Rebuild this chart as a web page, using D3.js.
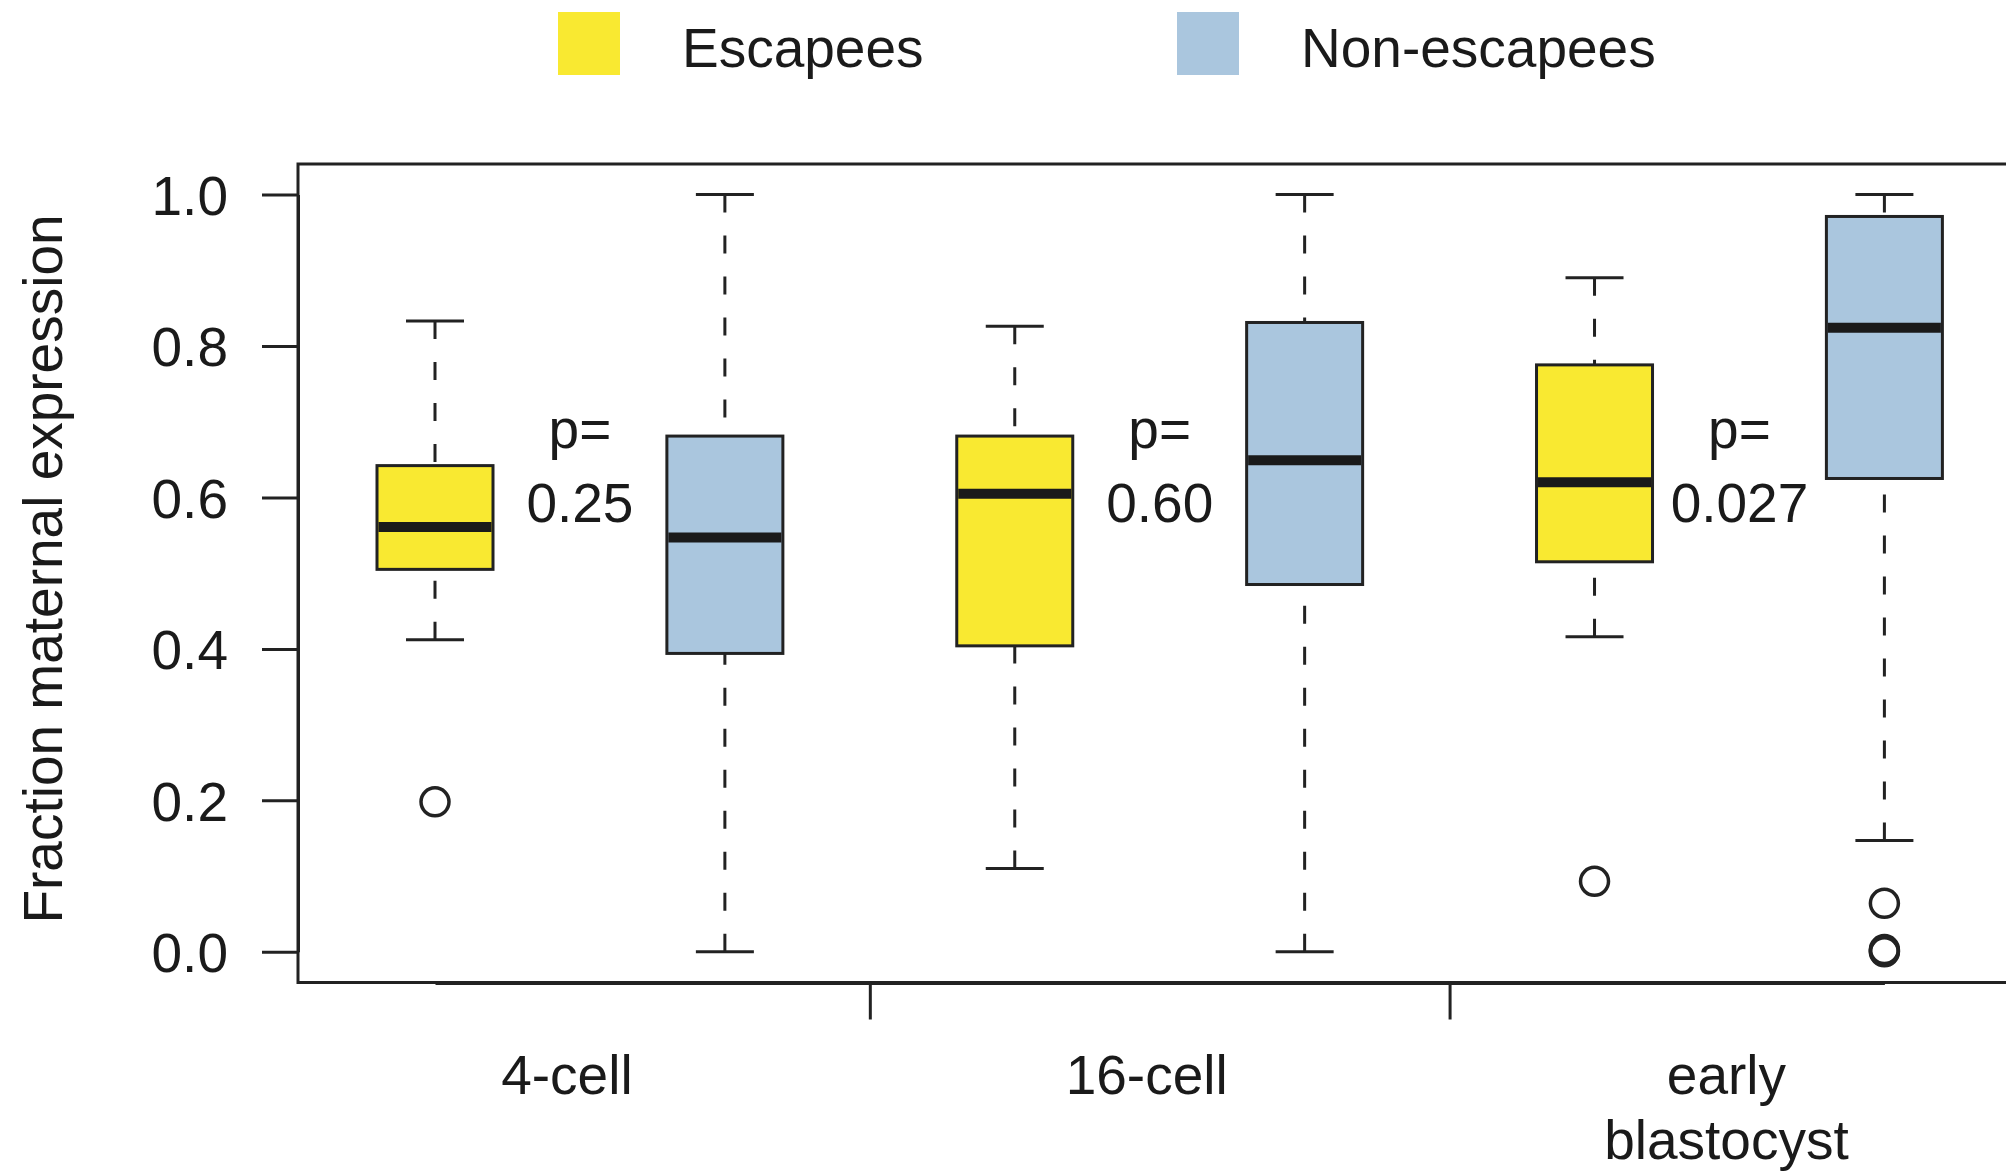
<!DOCTYPE html>
<html>
<head>
<meta charset="utf-8">
<script src="https://cdn.jsdelivr.net/npm/d3@7"></script>
<style>
  html, body { margin: 0; padding: 0; background: #ffffff; overflow: hidden; }
  text { font-family: "Liberation Sans", Arial, Helvetica, sans-serif; fill: #1a1a1a; }
</style>
</head>
<body>
<svg id="chart" width="2006" height="1176"></svg>
<script>
// Developmental stages on the x axis
const stages = [["4-cell"], ["16-cell"], ["early", "blastocyst"]];
// Gene classes drawn side by side within each stage
const groups = ["Escapees", "Non-escapees"];
const groupColors = ["#f9e931", "#aac6de"];

// Box statistics per stage: [lower whisker, Q1, median, Q3, upper whisker]
const escapeeStats = [
  [0.412, 0.505, 0.561, 0.642, 0.833],
  [0.110, 0.404, 0.605, 0.681, 0.826],
  [0.416, 0.515, 0.620, 0.775, 0.890]
];
const nonEscapeeStats = [
  [0.000, 0.394, 0.547, 0.681, 1.000],
  [0.000, 0.485, 0.649, 0.831, 1.000],
  [0.147, 0.625, 0.824, 0.971, 1.000]
];
const escapeeOutliers = [[0.198], [], [0.093]];
const nonEscapeeOutliers = [[], [], [0.064, 0.003, 0.001, 0.0]];

// Wilcoxon p-values between the two classes, per stage
const pValues = ["0.25", "0.60", "0.027"];
const yTicks = [0, 0.2, 0.4, 0.6, 0.8, 1.0];
const yTitle = "Fraction maternal expression";

// ---- layout ----
const frame = { left: 298, top: 164, bottom: 982.5, right: 2040 };
const boxWidth = 116, capWidth = 58;
const ink = "#222222";
const fontSize = 55;

const svg = d3.select("#chart");

const y = d3.scaleLinear().domain([0, 1]).range([951.8, 194.5]);
// box slots 1..6 : stage i, group j -> slot 2i + j + 1
const x = d3.scaleLinear().domain([1, 6]).range([435, 1884.4]);
const slot = (i, j) => 2 * i + j + 1;

// plot frame (right edge runs past the canvas)
svg.append("rect")
  .attr("x", frame.left).attr("y", frame.top)
  .attr("width", frame.right - frame.left).attr("height", frame.bottom - frame.top)
  .attr("fill", "none").attr("stroke", ink).attr("stroke-width", 3);

// y axis
const yAxis = d3.axisLeft(y)
  .tickValues(yTicks)
  .tickFormat(d3.format(".1f"))
  .tickSizeInner(36).tickSizeOuter(0).tickPadding(34);
const gy = svg.append("g").attr("transform", `translate(${frame.left},0)`).call(yAxis);
gy.selectAll("path, line").attr("stroke", ink).attr("stroke-width", 3);
gy.selectAll("text")
  .attr("font-size", fontSize)
  .attr("font-family", "'Liberation Sans', Arial, sans-serif")
  .attr("fill", "#1a1a1a")
  .attr("dy", "0.36em");

// x axis: ticks mark stage boundaries
const xAxis = d3.axisBottom(x)
  .tickValues([2.5, 4.5])
  .tickFormat("")
  .tickSizeInner(37).tickSizeOuter(0);
const gx = svg.append("g").attr("transform", `translate(0,${frame.bottom})`).call(xAxis);
gx.selectAll("path, line").attr("stroke", ink).attr("stroke-width", 3);
gx.select("path.domain").attr("stroke-width", 4);

// stage labels
stages.forEach((lines, i) => {
  const cx = (x(slot(i, 0)) + x(slot(i, 1))) / 2 - 13;
  const t = svg.append("text")
    .attr("text-anchor", "middle")
    .attr("font-size", fontSize);
  lines.forEach((ln, k) => {
    t.append("tspan").attr("x", cx).attr("y", 1094 + k * 65).text(ln);
  });
});

// y title
svg.append("text")
  .attr("transform", `translate(62,569) rotate(-90)`)
  .attr("text-anchor", "middle")
  .attr("font-size", fontSize)
  .text(yTitle);

// boxes
const series = [
  { stats: escapeeStats, outliers: escapeeOutliers },
  { stats: nonEscapeeStats, outliers: nonEscapeeOutliers }
];

series.forEach((s, j) => {
  s.stats.forEach((st, i) => {
    const cx = x(slot(i, j));
    const [lo, q1, med, q3, hi] = st;
    const g = svg.append("g");
    // whiskers, dashed from the cap toward the box
    [[hi, q3], [lo, q1]].forEach(([end, edge]) => {
      g.append("line")
        .attr("x1", cx).attr("x2", cx)
        .attr("y1", y(end)).attr("y2", y(edge))
        .attr("stroke", ink).attr("stroke-width", 3)
        .attr("stroke-dasharray", "18,23");
      g.append("line")
        .attr("x1", cx - capWidth / 2).attr("x2", cx + capWidth / 2)
        .attr("y1", y(end)).attr("y2", y(end))
        .attr("stroke", ink).attr("stroke-width", 3);
    });
    g.append("rect")
      .attr("x", cx - boxWidth / 2).attr("y", y(q3))
      .attr("width", boxWidth).attr("height", y(q1) - y(q3))
      .attr("fill", groupColors[j]).attr("stroke", ink).attr("stroke-width", 3);
    g.append("line")
      .attr("x1", cx - boxWidth / 2 + 1.5).attr("x2", cx + boxWidth / 2 - 1.5)
      .attr("y1", y(med)).attr("y2", y(med))
      .attr("stroke", "#1a1a1a").attr("stroke-width", 10);
    g.selectAll("circle.out").data(s.outliers[i]).enter().append("circle")
      .attr("class", "out")
      .attr("cx", cx).attr("cy", d => y(d)).attr("r", 14)
      .attr("fill", "none").attr("stroke", ink).attr("stroke-width", 3.5);
  });
});

// p-values
pValues.forEach((p, i) => {
  const cx = (x(slot(i, 0)) + x(slot(i, 1))) / 2;
  svg.append("text").attr("x", cx).attr("y", 448)
    .attr("text-anchor", "middle").attr("font-size", fontSize).text("p=");
  svg.append("text").attr("x", cx).attr("y", 522)
    .attr("text-anchor", "middle").attr("font-size", fontSize).text(p);
});

// legend
const legendX = [558, 1177];
groups.forEach((name, j) => {
  svg.append("rect")
    .attr("x", legendX[j]).attr("y", 12)
    .attr("width", 62).attr("height", 63)
    .attr("fill", groupColors[j]);
  svg.append("text")
    .attr("x", legendX[j] + 124).attr("y", 67)
    .attr("font-size", fontSize)
    .text(name);
});
</script>
</body>
</html>
